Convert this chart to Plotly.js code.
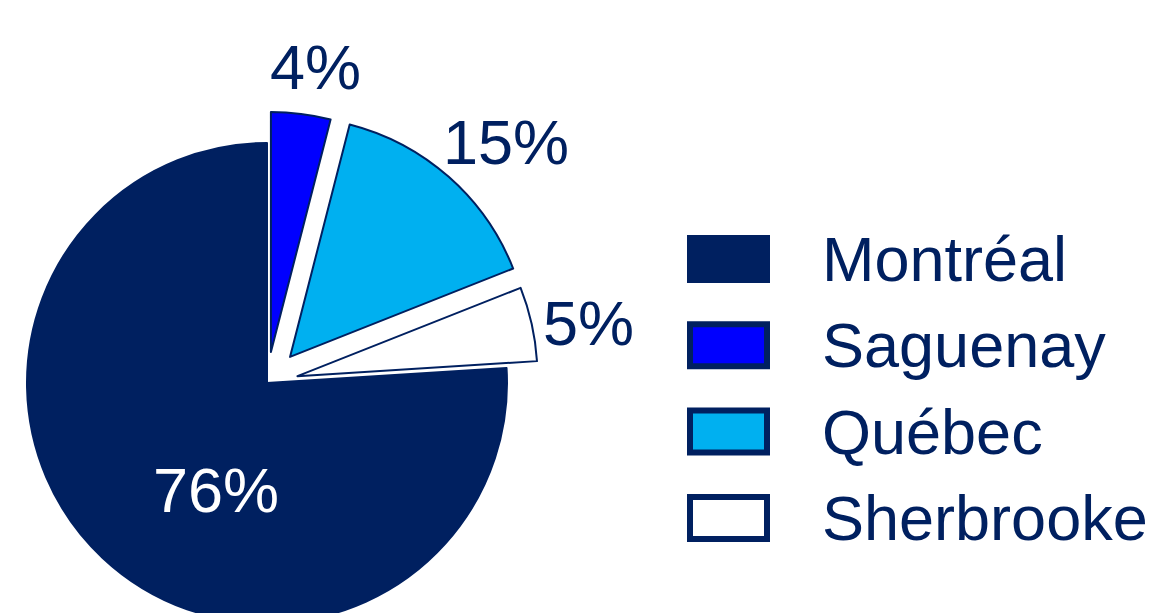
<!DOCTYPE html>
<html>
<head>
<meta charset="utf-8">
<script src="https://cdn.plot.ly/plotly-3.0.1.min.js"></script>
<style>
  html, body { margin: 0; padding: 0; overflow: hidden; background: #ffffff; width: 1155px; height: 613px; }
  #chart { position: absolute; left: -40px; top: 0; width: 1195px; height: 680px; }
</style>
</head>
<body>
<div id="chart"></div>
<script>
// ---- data ----
const cities = ['Montréal', 'Saguenay', 'Québec', 'Sherbrooke'];
const shares = [76, 4, 15, 5];
const sliceColors = ['#002060', '#0000FF', '#00B0F0', '#FFFFFF'];
const slicePull = [0, 0.13, 0.145, 0.13];
const labelColors = ['#FFFFFF', '#002060', '#002060', '#002060'];

// ---- layout helpers ----
const W = 1195, H = 680, OFF = 40;
const NAVY = '#002060';
const FONT = 'Liberation Sans, Arial, sans-serif';
const FS = 63;
const px = s => (s + OFF) / W;
const py = s => 1 - s / H;

const pieCx = 267, pieCy = 383, pieR = 240;
const maxPull = Math.max.apply(null, slicePull);
const half = pieR * (1 + maxPull);

const trace = {
  type: 'pie',
  labels: cities,
  values: shares,
  sort: false,
  direction: 'clockwise',
  rotation: 86.4,
  pull: slicePull,
  marker: { colors: sliceColors, line: { color: NAVY, width: 2 } },
  textinfo: 'none',
  domain: {
    x: [px(pieCx - half), px(pieCx + half)],
    y: [py(pieCy + half), py(pieCy - half)]
  },
  hoverinfo: 'label+percent',
  showlegend: false
};

const shapes = [];
const annotations = [];

// percentage labels (screen positions of label centres)
const labelPos = [[216, 490], [315, 67], [506, 142], [588, 323]];
shares.forEach((v, i) => {
  annotations.push({
    xref: 'paper', yref: 'paper',
    x: px(labelPos[i][0]), y: py(labelPos[i][1]),
    xanchor: 'center', yanchor: 'middle',
    text: v + '%', showarrow: false,
    font: { family: FONT, size: FS, color: labelColors[i] }
  });
});

// custom legend built from the category arrays
const rowTop = 235, rowStep = 86.3, boxW = 83, boxH = 48, lw = 6;
cities.forEach((c, i) => {
  const t = rowTop + rowStep * i;
  shapes.push({
    type: 'rect', xref: 'paper', yref: 'paper',
    x0: px(687 + lw / 2), x1: px(687 + boxW - lw / 2),
    y0: py(t + boxH - lw / 2), y1: py(t + lw / 2),
    fillcolor: sliceColors[i],
    line: { color: NAVY, width: lw }
  });
  annotations.push({
    xref: 'paper', yref: 'paper',
    x: px(820), y: py(t + boxH / 2),
    xanchor: 'left', yanchor: 'middle',
    text: c, showarrow: false,
    font: { family: FONT, size: FS, color: NAVY }
  });
});

const layout = {
  width: W, height: H,
  margin: { l: 0, r: 0, t: 0, b: 0 },
  paper_bgcolor: '#FFFFFF',
  plot_bgcolor: '#FFFFFF',
  showlegend: false,
  shapes: shapes,
  annotations: annotations,
  font: { family: FONT, color: NAVY }
};

Plotly.newPlot('chart', [trace], layout, { displayModeBar: false, staticPlot: true });
</script>
</body>
</html>
